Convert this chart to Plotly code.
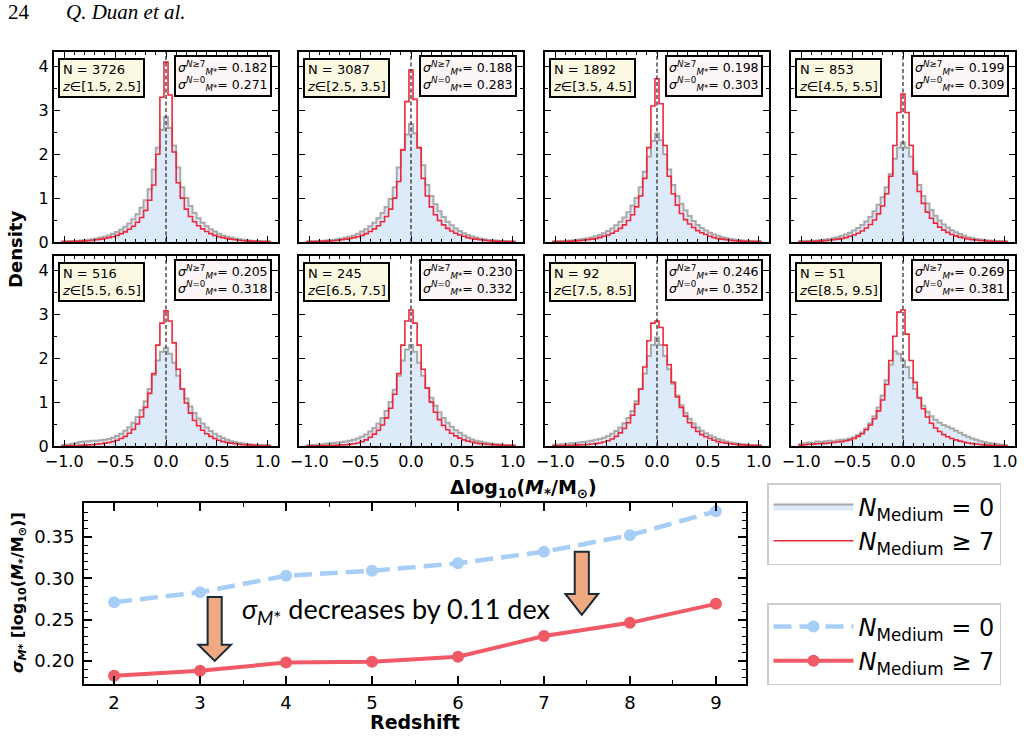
import numpy as np
import plotly.graph_objects as go

W, H = 1024, 737

# ---------------- data ----------------
n_gal = [3726, 3087, 1892, 853, 516, 245, 92, 51]
z_bins = ["[1.5, 2.5]", "[2.5, 3.5]", "[3.5, 4.5]", "[4.5, 5.5]",
          "[5.5, 6.5]", "[6.5, 7.5]", "[7.5, 8.5]", "[8.5, 9.5]"]
redshift = [2, 3, 4, 5, 6, 7, 8, 9]
sigma_n0 = [0.271, 0.283, 0.303, 0.309, 0.318, 0.332, 0.352, 0.381]
sigma_n7 = [0.182, 0.188, 0.198, 0.199, 0.205, 0.230, 0.246, 0.269]

# histogram bins: 51 bins of width 0.04 centred on -1.0 ... 1.0
bin_lo, bin_hi, n_bins = -1.02, 1.02, 51

hist_n0_z2 = [0.012, 0.015, 0.02, 0.025, 0.032, 0.04, 0.05, 0.065, 0.08, 0.10, 0.12, 0.15, 0.19, 0.23, 0.28, 0.35, 0.42, 0.52, 0.63, 0.78, 0.95, 1.2, 1.65, 2.15, 2.55,
              2.85,
              2.6, 2.2, 1.7, 1.25, 1.0, 0.82, 0.66, 0.54, 0.44, 0.36, 0.29, 0.24, 0.19, 0.15, 0.12, 0.10, 0.08, 0.065, 0.05, 0.04, 0.03, 0.025, 0.02, 0.015, 0.012]
hist_n7_z2 = [0.008, 0.01, 0.012, 0.015, 0.02, 0.025, 0.03, 0.04, 0.05, 0.065, 0.08, 0.10, 0.12, 0.15, 0.19, 0.23, 0.29, 0.36, 0.45, 0.56, 0.72, 0.95, 1.3, 2.0, 3.3,
              4.1,
              3.35, 2.05, 1.35, 1.0, 0.75, 0.58, 0.46, 0.37, 0.3, 0.24, 0.19, 0.15, 0.12, 0.1, 0.08, 0.065, 0.05, 0.04, 0.03, 0.025, 0.02, 0.015, 0.012, 0.01, 0.008]

hist_n0_z3 = [0.012, 0.015, 0.02, 0.025, 0.032, 0.04, 0.05, 0.065, 0.08, 0.10, 0.12, 0.15, 0.19, 0.24, 0.29, 0.36, 0.44, 0.54, 0.66, 0.8, 0.98, 1.25, 1.7, 2.1, 2.45,
              2.69,
              2.48, 2.15, 1.75, 1.3, 1.05, 0.86, 0.7, 0.57, 0.46, 0.38, 0.31, 0.25, 0.2, 0.16, 0.13, 0.1, 0.08, 0.065, 0.05, 0.04, 0.032, 0.025, 0.02, 0.015, 0.012]
hist_n7_z3 = [0.008, 0.01, 0.012, 0.015, 0.02, 0.025, 0.03, 0.04, 0.05, 0.065, 0.08, 0.10, 0.12, 0.15, 0.19, 0.24, 0.30, 0.37, 0.46, 0.58, 0.75, 1.0, 1.38, 2.1, 3.2,
              3.92,
              3.25, 2.15, 1.45, 1.05, 0.8, 0.62, 0.49, 0.39, 0.31, 0.25, 0.2, 0.16, 0.13, 0.1, 0.08, 0.065, 0.05, 0.04, 0.03, 0.025, 0.02, 0.015, 0.012, 0.01, 0.008]

hist_n0_z4 = [0.015, 0.018, 0.022, 0.028, 0.035, 0.045, 0.055, 0.07, 0.085, 0.105, 0.13, 0.16, 0.2, 0.25, 0.31, 0.38, 0.46, 0.56, 0.68, 0.83, 1.0, 1.25, 1.6, 1.95, 2.3,
              2.47,
              2.32, 2.0, 1.65, 1.3, 1.05, 0.87, 0.72, 0.59, 0.48, 0.39, 0.32, 0.26, 0.21, 0.17, 0.14, 0.11, 0.09, 0.07, 0.055, 0.045, 0.035, 0.028, 0.022, 0.018, 0.015]
hist_n7_z4 = [0.008, 0.01, 0.012, 0.015, 0.02, 0.025, 0.032, 0.04, 0.05, 0.065, 0.08, 0.10, 0.13, 0.16, 0.2, 0.25, 0.31, 0.39, 0.49, 0.62, 0.8, 1.05, 1.45, 2.15, 3.1,
              3.72,
              3.15, 2.2, 1.5, 1.1, 0.84, 0.65, 0.51, 0.41, 0.33, 0.26, 0.21, 0.17, 0.13, 0.1, 0.08, 0.065, 0.05, 0.04, 0.03, 0.025, 0.02, 0.015, 0.012, 0.01, 0.008]

hist_n0_z5 = [0.015, 0.018, 0.022, 0.028, 0.035, 0.045, 0.055, 0.07, 0.09, 0.11, 0.14, 0.17, 0.21, 0.26, 0.32, 0.39, 0.47, 0.57, 0.7, 0.85, 1.02, 1.25, 1.55, 1.9, 2.15,
              2.27,
              2.15, 1.95, 1.6, 1.3, 1.05, 0.88, 0.73, 0.6, 0.49, 0.4, 0.33, 0.27, 0.22, 0.18, 0.14, 0.11, 0.09, 0.07, 0.055, 0.045, 0.035, 0.028, 0.022, 0.018, 0.015]
hist_n7_z5 = [0.008, 0.01, 0.012, 0.015, 0.02, 0.025, 0.032, 0.04, 0.05, 0.065, 0.08, 0.10, 0.13, 0.16, 0.2, 0.25, 0.32, 0.4, 0.5, 0.64, 0.82, 1.1, 1.5, 2.2, 2.95,
              3.37,
              2.95, 2.2, 1.55, 1.15, 0.88, 0.68, 0.54, 0.43, 0.34, 0.27, 0.22, 0.17, 0.14, 0.11, 0.09, 0.07, 0.055, 0.045, 0.035, 0.028, 0.022, 0.017, 0.013, 0.01, 0.008]

hist_n0_z6 = [0.02, 0.03, 0.05, 0.07, 0.09, 0.1, 0.11, 0.12, 0.12, 0.13, 0.14, 0.16, 0.19, 0.23, 0.28, 0.35, 0.43, 0.53, 0.66, 0.82, 1.02, 1.3, 1.62, 1.95, 2.15,
              2.24,
              2.1, 1.9, 1.6, 1.3, 1.08, 0.9, 0.75, 0.62, 0.51, 0.42, 0.34, 0.28, 0.22, 0.18, 0.14, 0.11, 0.09, 0.07, 0.055, 0.045, 0.035, 0.028, 0.022, 0.018, 0.015]
hist_n7_z6 = [0.005, 0.008, 0.01, 0.012, 0.015, 0.02, 0.025, 0.03, 0.04, 0.05, 0.065, 0.08, 0.1, 0.13, 0.17, 0.22, 0.29, 0.38, 0.5, 0.66, 0.88, 1.2, 1.65, 2.3, 2.8,
              3.08,
              2.85, 2.35, 1.75, 1.3, 0.98, 0.75, 0.58, 0.46, 0.36, 0.28, 0.22, 0.17, 0.13, 0.1, 0.08, 0.065, 0.05, 0.04, 0.03, 0.025, 0.02, 0.015, 0.012, 0.01, 0.008]

hist_n0_z7 = [0.015, 0.02, 0.03, 0.04, 0.05, 0.06, 0.07, 0.08, 0.09, 0.1, 0.12, 0.14, 0.17, 0.21, 0.26, 0.33, 0.41, 0.51, 0.64, 0.8, 1.0, 1.28, 1.6, 1.95, 2.2,
              2.3,
              2.15, 1.9, 1.6, 1.32, 1.1, 0.92, 0.77, 0.64, 0.53, 0.44, 0.36, 0.3, 0.24, 0.19, 0.15, 0.12, 0.1, 0.08, 0.065, 0.05, 0.04, 0.032, 0.025, 0.02, 0.015]
hist_n7_z7 = [0.003, 0.005, 0.006, 0.008, 0.01, 0.012, 0.015, 0.02, 0.025, 0.03, 0.04, 0.05, 0.07, 0.1, 0.14, 0.2, 0.27, 0.36, 0.48, 0.64, 0.86, 1.18, 1.65, 2.3, 2.85,
              3.1,
              2.8, 2.3, 1.75, 1.32, 1.0, 0.77, 0.6, 0.47, 0.37, 0.29, 0.23, 0.18, 0.14, 0.11, 0.09, 0.07, 0.055, 0.045, 0.035, 0.03, 0.025, 0.02, 0.015, 0.01, 0.008]

hist_n0_z8 = [0.03, 0.035, 0.04, 0.05, 0.06, 0.07, 0.08, 0.09, 0.1, 0.12, 0.14, 0.16, 0.19, 0.23, 0.28, 0.34, 0.42, 0.52, 0.64, 0.8, 1.02, 1.3, 1.65, 2.05, 2.3,
              2.47,
              2.3, 2.05, 1.75, 1.42, 1.15, 0.93, 0.76, 0.62, 0.51, 0.42, 0.35, 0.29, 0.24, 0.2, 0.16, 0.13, 0.1, 0.08, 0.065, 0.05, 0.04, 0.032, 0.025, 0.02, 0.015]
hist_n7_z8 = [0.005, 0.008, 0.01, 0.012, 0.015, 0.02, 0.025, 0.03, 0.035, 0.045, 0.055, 0.07, 0.09, 0.12, 0.16, 0.22, 0.3, 0.4, 0.53, 0.7, 0.95, 1.3, 1.8, 2.4, 2.8,
              2.85,
              2.7, 2.3, 1.85, 1.45, 1.12, 0.88, 0.68, 0.53, 0.42, 0.33, 0.26, 0.21, 0.17, 0.13, 0.1, 0.08, 0.065, 0.05, 0.04, 0.032, 0.025, 0.02, 0.015, 0.01, 0.008]

hist_n0_z9 = [0.04, 0.06, 0.08, 0.07, 0.1, 0.09, 0.11, 0.12, 0.11, 0.13, 0.14, 0.15, 0.17, 0.2, 0.25, 0.31, 0.4, 0.52, 0.68, 0.88, 1.15, 1.5, 1.85, 2.16, 2.1,
              1.95,
              1.8, 1.55, 1.3, 1.1, 0.92, 0.78, 0.68, 0.6, 0.53, 0.48, 0.44, 0.4, 0.35, 0.3, 0.25, 0.21, 0.17, 0.14, 0.11, 0.09, 0.07, 0.055, 0.045, 0.035, 0.025]
hist_n7_z9 = [0.02, 0.03, 0.04, 0.04, 0.05, 0.05, 0.06, 0.07, 0.08, 0.09, 0.1, 0.12, 0.14, 0.17, 0.22, 0.28, 0.37, 0.48, 0.62, 0.8, 1.05, 1.4, 1.95, 2.5, 3.05,
              3.1,
              2.55, 1.95, 1.45, 1.1, 0.85, 0.66, 0.52, 0.41, 0.33, 0.26, 0.21, 0.17, 0.14, 0.11, 0.09, 0.07, 0.055, 0.045, 0.035, 0.025, 0.02, 0.015, 0.01, 0.008, 0.005]

hists_n0 = [hist_n0_z2, hist_n0_z3, hist_n0_z4, hist_n0_z5, hist_n0_z6, hist_n0_z7, hist_n0_z8, hist_n0_z9]
hists_n7 = [hist_n7_z2, hist_n7_z3, hist_n7_z4, hist_n7_z5, hist_n7_z6, hist_n7_z7, hist_n7_z8, hist_n7_z9]

# ---------------- styles ----------------
GRAY = "#a9a9a9"
FILL = "#dceafa"
RED_H = "#f0283c"
BLUE_L = "#a6cef7"
RED_L = "#ef5a66"
FONT = "DejaVu Sans"

def fx(px):
    return px / W

def fy(py):
    return 1 - py / H

col_px = [(54, 278), (299, 523), (545, 769), (791, 1015)]
row_px = [(52, 242), (256, 446)]

edges = np.linspace(bin_lo, bin_hi, n_bins + 1)

def step_xy(vals):
    v = np.asarray(vals, dtype=float)
    xs = np.concatenate([[edges[0]], edges, [edges[-1]]])
    ys = np.concatenate([[0.0], v, [v[-1]], [0.0]])
    return xs, ys

def axname(k):
    s = "" if k == 1 else str(k)
    return "x" + s, "y" + s, "xaxis" + s, "yaxis" + s

LEG_N0 = "<i>N</i><sub>Medium</sub> = 0"
LEG_N7 = "<i>N</i><sub>Medium</sub> ≥ 7"

fig = go.Figure()
layout = dict(
    width=W, height=H,
    margin=dict(l=0, r=0, t=0, b=0, pad=0, autoexpand=False),
    paper_bgcolor="white", plot_bgcolor="white",
    font=dict(family=FONT, color="black"),
    hovermode=False,
)
shapes = []
annotations = []

for i in range(8):
    k = i + 1
    r, c = divmod(i, 4)
    xa, ya, xkey, ykey = axname(k)
    xs, ys = step_xy(hists_n0[i])
    fig.add_trace(go.Scatter(
        x=xs, y=ys, mode="lines", line=dict(color=GRAY, width=2, shape="hv"),
        fill="tozeroy", fillcolor=FILL, name=LEG_N0, legend="legend",
        showlegend=(i == 0), xaxis=xa, yaxis=ya, hoverinfo="skip"))
    xs, ys = step_xy(hists_n7[i])
    fig.add_trace(go.Scatter(
        x=xs, y=ys, mode="lines", line=dict(color=RED_H, width=1.6, shape="hv"),
        name=LEG_N7, legend="legend",
        showlegend=(i == 0), xaxis=xa, yaxis=ya, hoverinfo="skip"))

    x0, x1 = col_px[c]
    y0, y1 = row_px[r]
    layout[xkey] = dict(
        domain=[fx(x0), fx(x1)], range=[-1.1, 1.1], anchor=ya, automargin=False,
        showline=True, linewidth=2, linecolor="black", mirror="ticks",
        ticks="inside", ticklen=6, tickwidth=1.3, tickcolor="black",
        tickvals=[-1.0, -0.5, 0.0, 0.5, 1.0], tickformat=".1f",
        showticklabels=(r == 1), tickfont=dict(size=16, family=FONT),
        ticklabelstandoff=0,
        minor=dict(ticks="inside", ticklen=3, tickwidth=1, tickcolor="black",
                   dtick=0.1, tick0=0, showgrid=False),
        showgrid=False, zeroline=False,
    )
    layout[ykey] = dict(
        domain=[fy(y1), fy(y0)], range=[0, 4.33], anchor=xa, automargin=False,
        showline=True, linewidth=2, linecolor="black", mirror="ticks",
        ticks="inside", ticklen=6, tickwidth=1.3, tickcolor="black",
        dtick=1, tick0=0, showticklabels=(c == 0),
        tickfont=dict(size=16, family=FONT),
        minor=dict(ticks="inside", ticklen=3, tickwidth=1, tickcolor="black",
                   dtick=0.5, tick0=0, showgrid=False),
        showgrid=False, zeroline=False,
    )
    shapes.append(dict(type="line", xref=xa, yref=f"{ya} domain",
                       x0=0, x1=0, y0=0, y1=1,
                       line=dict(color="#222222", width=1.2, dash="4px,2.5px")))
    annotations.append(dict(
        xref=f"{xa} domain", yref=f"{ya} domain", x=0.018, y=0.968,
        xanchor="left", yanchor="top", showarrow=False, align="left",
        text=f"N = {n_gal[i]}<br><i>z</i>∈{z_bins[i]}",
        font=dict(size=13, family=FONT, color="black"),
        bgcolor="#fbf9e2", bordercolor="black", borderwidth=2, borderpad=2))
    annotations.append(dict(
        xref=f"{xa} domain", yref=f"{ya} domain", x=0.975, y=0.985,
        xanchor="right", yanchor="top", showarrow=False, align="left",
        text=(f"<i>σ</i><sup><i>N</i>≥7</sup><sub><i>M</i>*</sub>= {sigma_n7[i]:.3f}<br>"
              f"<i>σ</i><sup><i>N</i>=0</sup><sub><i>M</i>*</sub>= {sigma_n0[i]:.3f}"),
        font=dict(size=12.5, family=FONT, color="black"),
        bgcolor="#fdf6f6", bordercolor="black", borderwidth=2, borderpad=2))

# ---------------- bottom panel ----------------
fig.add_trace(go.Scatter(
    x=redshift, y=sigma_n0, mode="lines+markers", name=LEG_N0, legend="legend2",
    line=dict(color=BLUE_L, width=4.5, dash="18px,8px"),
    marker=dict(color=BLUE_L, size=12), xaxis="x9", yaxis="y9"))
fig.add_trace(go.Scatter(
    x=redshift, y=sigma_n7, mode="lines+markers", name=LEG_N7, legend="legend2",
    line=dict(color=RED_L, width=4), marker=dict(color=RED_L, size=12),
    xaxis="x9", yaxis="y9"))

layout["xaxis9"] = dict(
    domain=[fx(84), fx(746)], range=[1.65, 9.35], anchor="y9", automargin=False,
    showline=True, linewidth=2, linecolor="black", mirror="ticks",
    ticks="inside", ticklen=8, tickwidth=1.5, tickcolor="black",
    dtick=1, tick0=0, tickfont=dict(size=18, family=FONT), ticklabelstandoff=1,
    minor=dict(ticks="inside", ticklen=4, tickwidth=1.2, tickcolor="black",
               dtick=0.5, tick0=0, showgrid=False),
    showgrid=False, zeroline=False,
)
layout["yaxis9"] = dict(
    domain=[fy(684), fy(503)], range=[0.172, 0.391], anchor="x9", automargin=False,
    showline=True, linewidth=2, linecolor="black", mirror="ticks",
    ticks="inside", ticklen=8, tickwidth=1.5, tickcolor="black",
    dtick=0.05, tick0=0, tickformat=".2f", tickfont=dict(size=18, family=FONT),
    ticklabelstandoff=4,
    minor=dict(ticks="inside", ticklen=4, tickwidth=1.2, tickcolor="black",
               dtick=0.01, tick0=0, showgrid=False),
    showgrid=False, zeroline=False,
)

def block_arrow(xc, y_top, y_base, y_tip, shaft_hw=0.082, head_hw=0.19):
    return (f"M {xc - shaft_hw},{y_top} L {xc + shaft_hw},{y_top} "
            f"L {xc + shaft_hw},{y_base} L {xc + head_hw},{y_base} "
            f"L {xc},{y_tip} L {xc - head_hw},{y_base} "
            f"L {xc - shaft_hw},{y_base} Z")

for (xc, yt, yb, ytip) in [(3.17, 0.2774, 0.2194, 0.2000), (7.44, 0.3319, 0.2810, 0.2556)]:
    shapes.append(dict(type="path", xref="x9", yref="y9",
                       path=block_arrow(xc, yt, yb, ytip),
                       fillcolor="#f0aa82", line=dict(color="#1c2b38", width=2)))

annotations.append(dict(
    xref="x9", yref="y9", x=3.47, y=0.2615, xanchor="left", yanchor="middle",
    showarrow=False,
    text="<i>σ</i><sub><i>M</i>*</sub> decreases by 0.11 dex",
    font=dict(size=27, family="Lato", color="black")))

# ---------------- global labels ----------------
def plabel(px, py, text, size, family=FONT, angle=0, xanchor="center"):
    return dict(xref="paper", yref="paper", x=fx(px), y=fy(py), text=text,
                textangle=angle, showarrow=False, xanchor=xanchor, yanchor="middle",
                font=dict(size=size, family=family, color="black"))

annotations += [
    plabel(15, 250, "<b>Density</b>", 18, angle=-90),
    plabel(523, 488, "<b>Δlog<sub>10</sub>(<i>M</i><sub>*</sub>/M<sub>⊙</sub>)</b>", 19),
    plabel(18, 593, "<b><i>σ</i><sub><i>M</i>*</sub> [log<sub>10</sub>(<i>M</i><sub>*</sub>/M<sub>⊙</sub>)]</b>",
           16, angle=-90),
    plabel(415, 722, "<b>Redshift</b>", 19),
    plabel(6, 12, "24", 21, family="Liberation Serif", xanchor="left"),
    plabel(64, 12, "<i>Q. Duan et al.</i>", 21, family="Liberation Serif", xanchor="left"),
]

legend_common = dict(
    xanchor="left", yanchor="top", bgcolor="white", bordercolor="#cccccc",
    borderwidth=1.5, font=dict(size=24, family=FONT, color="black"),
    itemwidth=80, tracegroupgap=0,
)
layout["legend"] = dict(x=fx(767), y=fy(483), **legend_common)
layout["legend2"] = dict(x=fx(767), y=fy(603), **legend_common)
layout["shapes"] = shapes
layout["annotations"] = annotations

fig.update_layout(**layout)
fig.write_html("out.html")
